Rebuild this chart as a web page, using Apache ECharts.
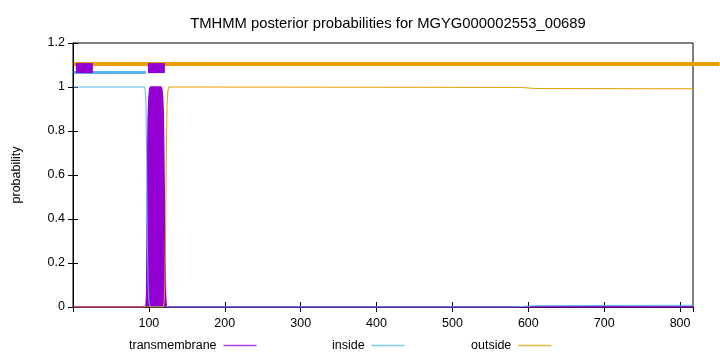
<!DOCTYPE html>
<html>
<head>
<meta charset="utf-8">
<script src="https://cdn.jsdelivr.net/npm/echarts@6/dist/echarts.min.js"></script>
<style>html,body{margin:0;padding:0;background:#fff;}#c{width:720px;height:352px;}</style>
</head>
<body>
<div id="c"></div>
<script>
const titleText = 'TMHMM posterior probabilities for MGYG000002553_00689';
const seqLength = 817;
const xTicks = [100, 200, 300, 400, 500, 600, 700, 800];
const yTicks = [0, 0.2, 0.4, 0.6, 0.8, 1, 1.2];
const legendNames = ['transmembrane', 'inside', 'outside'];

// posterior probability curves: [position, probability]
const transmembrane = [[1,0],[96,0],[97,0.05],[98,0.5],[99,0.85],[100,0.95],[101,0.99],[102,1],[116,1],[117,0.99],[118,0.96],[119,0.88],[120,0.6],[121,0.25],[122,0.05],[123,0],[817,0]];
const inside = [[1,1],[94,1],[95,0.99],[96,0.95],[97,0.7],[98,0.3],[99,0.1],[100,0.03],[101,0.01],[102,0],[580,0],[610,0.006],[817,0.008]];
const outside = [[1,0],[119,0],[120,0.02],[121,0.1],[122,0.35],[123,0.7],[124,0.92],[125,0.98],[126,1],[590,0.998],[610,0.993],[817,0.992]];

// predicted topology bars at the top (outside bar runs past the plot edge)
const outsideBand = [[1,1.1045],[852,1.1045]];
const insideBand = [[1,1.066],[96,1.066]];
const tmBox1 = [[3.8,1.086],[26.2,1.086]];
const tmBox2 = [[98.7,1.086],[121.1,1.086]];

const PURPLE = '#9400D3', BLUE = '#56B4E9', ORANGE = '#E69F00';
const FONT = 'Liberation Sans';
const seriesColor = {transmembrane: PURPLE, inside: BLUE, outside: ORANGE};

const chart = echarts.init(document.getElementById('c'), null, {renderer: 'canvas'});
const axisCommon = {
  type: 'value',
  axisLine: {show: true, lineStyle: {color: '#000', width: 1}},
  axisTick: {show: true, inside: true, length: 5, lineStyle: {color: '#000'}},
  splitLine: {show: false}
};
function legendAt(name, left) {
  const c = seriesColor[name];
  return {
    data: [{name: name, icon: 'rect', itemStyle: {color: c, borderWidth: 0, opacity: 0.75}}],
    left: left, top: 334, orient: 'horizontal', align: 'right',
    itemWidth: 33, itemHeight: 1.5,
    textStyle: {fontFamily: FONT, fontSize: 12.5, color: '#000', padding: [0, 2, 0, 0]},
    selectedMode: false
  };
}
const plotW = 720 - 73 - 27;
const extMax = seqLength * (720 - 73) / plotW;
chart.setOption({
  animation: false,
  backgroundColor: '#fff',
  title: {text: titleText, left: 383, top: 11, textAlign: 'center',
    textStyle: {fontFamily: FONT, fontSize: 14.8, fontWeight: 'normal', color: '#000'}},
  legend: [legendAt(legendNames[0], 124), legendAt(legendNames[1], 327), legendAt(legendNames[2], 466)],
  grid: [
    {left: 73, right: 27, top: 43, bottom: 45, show: true, borderColor: '#000', borderWidth: 1, backgroundColor: 'transparent'},
    {left: 73, right: 0, top: 43, bottom: 45, show: false}
  ],
  xAxis: [
    Object.assign({}, axisCommon, {gridIndex: 0, min: 0, max: seqLength, interval: 100, position: 'bottom',
      axisLabel: {fontFamily: FONT, fontSize: 12.5, color: '#000', margin: 10, showMinLabel: false, showMaxLabel: false,
        formatter: v => xTicks.indexOf(v) >= 0 ? String(v) : ''}}),
    Object.assign({}, axisCommon, {gridIndex: 0, min: 0, max: seqLength, interval: 100, position: 'top',
      axisLabel: {show: false}}),
    {type: 'value', gridIndex: 1, min: 0, max: extMax, show: false}
  ],
  yAxis: [
    Object.assign({}, axisCommon, {gridIndex: 0, min: yTicks[0], max: yTicks[yTicks.length-1], interval: 0.2, position: 'left',
      name: 'probability', nameLocation: 'middle', nameGap: 50, nameRotate: 90,
      nameTextStyle: {fontFamily: FONT, fontSize: 12.5, color: '#000'},
      axisLabel: {fontFamily: FONT, fontSize: 12.5, color: '#000', margin: 8,
        formatter: v => String(Math.round(v*10)/10)}}),
    Object.assign({}, axisCommon, {gridIndex: 0, min: yTicks[0], max: yTicks[yTicks.length-1], interval: 0.2, position: 'right',
      axisLabel: {show: false}}),
    {type: 'value', gridIndex: 1, min: yTicks[0], max: yTicks[yTicks.length-1], show: false}
  ],
  series: [
    {name: 'transmembrane', type: 'line', data: transmembrane, symbol: 'none', color: PURPLE,
      itemStyle: {color: PURPLE},
      lineStyle: {color: PURPLE, width: 1.5}, areaStyle: {color: PURPLE, opacity: 1}, z: 2},
    {name: 'inside', type: 'line', data: inside, symbol: 'none', color: BLUE,
      itemStyle: {color: BLUE},
      lineStyle: {color: BLUE, width: 1}, z: 3},
    {name: 'outside', type: 'line', data: outside, symbol: 'none', color: ORANGE,
      itemStyle: {color: ORANGE},
      lineStyle: {color: ORANGE, width: 1}, z: 3},
    {name: 'outsideBand', type: 'line', data: outsideBand, symbol: 'none', xAxisIndex: 2, yAxisIndex: 2,
      lineStyle: {color: ORANGE, width: 4, cap: 'butt'}, z: 4},
    {name: 'insideBand', type: 'line', data: insideBand, symbol: 'none',
      lineStyle: {color: BLUE, width: 3, cap: 'butt'}, z: 4},
    {name: 'tmBox1', type: 'line', data: tmBox1, symbol: 'none',
      lineStyle: {color: PURPLE, width: 10, cap: 'butt'}, z: 5},
    {name: 'tmBox2', type: 'line', data: tmBox2, symbol: 'none',
      lineStyle: {color: PURPLE, width: 10, cap: 'butt'}, z: 5}
  ]
});
</script>
</body>
</html>
